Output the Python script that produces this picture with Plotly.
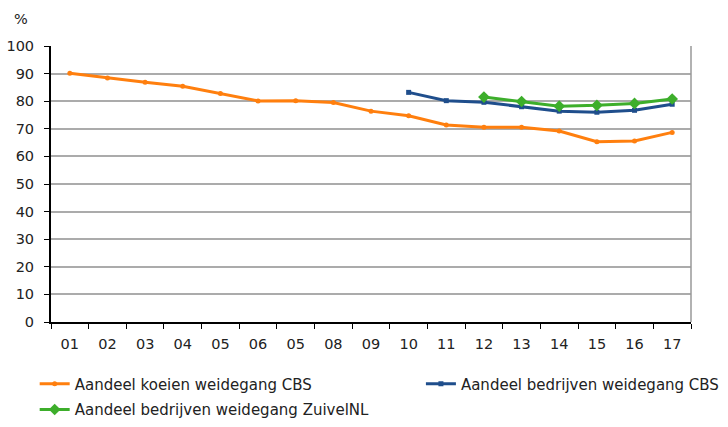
import plotly.graph_objects as go

# Jaren (labels zoals in de bron, incl. de "05" op plek 7)
jaren_labels = ["01", "02", "03", "04", "05", "06", "05", "08", "09",
                "10", "11", "12", "13", "14", "15", "16", "17"]
x_pos = list(range(1, 18))

koeien_cbs = [90.1, 88.4, 86.9, 85.4, 82.8, 80.1, 80.2, 79.5, 76.4,
              74.7, 71.4, 70.6, 70.6, 69.2, 65.3, 65.6, 68.7]

bedrijven_cbs = [None] * 9 + [83.2, 80.2, 79.6, 78.0, 76.4, 76.0, 76.7, 78.9]

bedrijven_zuivelnl = [None] * 11 + [81.5, 79.9, 78.2, 78.5, 79.2, 80.8]

font_naam = "DejaVu Sans"
legend_font = dict(family=font_naam, size=15, color="#222222")

fig = go.Figure()

fig.add_trace(go.Scatter(
    x=x_pos, y=koeien_cbs, name="Aandeel koeien weidegang CBS",
    mode="lines+markers", legend="legend",
    line=dict(color="#FF7F0E", width=3),
    marker=dict(symbol="circle", size=5, color="#FF7F0E"),
))
fig.add_trace(go.Scatter(
    x=x_pos, y=bedrijven_cbs, name="Aandeel bedrijven weidegang CBS",
    mode="lines+markers", legend="legend2",
    line=dict(color="#1F4E8C", width=3),
    marker=dict(symbol="square", size=5, color="#1F4E8C"),
))
fig.add_trace(go.Scatter(
    x=x_pos, y=bedrijven_zuivelnl, name="Aandeel bedrijven weidegang ZuivelNL",
    mode="lines+markers", legend="legend3",
    line=dict(color="#3DAE2B", width=3),
    marker=dict(symbol="diamond", size=9, color="#3DAE2B"),
))

fig.update_layout(
    width=728, height=427,
    margin=dict(l=51, r=37, t=46, b=105, autoexpand=False),
    paper_bgcolor="white", plot_bgcolor="white",
    font=dict(family=font_naam, size=14.5, color="#222222"),
    showlegend=True,
    legend=dict(x=-0.0255, y=-0.225, xanchor="left", yanchor="middle",
                font=legend_font, itemwidth=30, bgcolor="rgba(0,0,0,0)"),
    legend2=dict(x=0.578, y=-0.225, xanchor="left", yanchor="middle",
                 font=legend_font, itemwidth=30, bgcolor="rgba(0,0,0,0)"),
    legend3=dict(x=-0.0255, y=-0.318, xanchor="left", yanchor="middle",
                 font=legend_font, itemwidth=30, bgcolor="rgba(0,0,0,0)"),
    annotations=[dict(
        text="%", x=-0.047, y=1.098, xref="paper", yref="paper",
        xanchor="center", yanchor="middle", showarrow=False,
        font=dict(size=14.5),
    )],
)

fig.update_xaxes(
    range=[0.5, 17.5], tickvals=x_pos, ticktext=jaren_labels,
    ticks="", showgrid=False, zeroline=False, automargin=False,
    showline=True, linecolor="black", linewidth=2,
    ticklabelstandoff=8,
    minor=dict(tick0=0.5, dtick=1, ticks="outside", ticklen=5,
               tickcolor="black", showgrid=False),
)
fig.update_yaxes(
    range=[0, 100], dtick=10, ticks="outside", ticklen=5, tickcolor="black",
    showgrid=True, gridcolor="#ABABAB", gridwidth=1.5, automargin=False,
    zeroline=False, showline=True, linecolor="black", linewidth=2,
    ticklabelstandoff=7,
)

# rechter kader van het plotgebied
fig.add_shape(type="line", xref="paper", yref="paper", x0=1, x1=1, y0=0, y1=1,
              line=dict(color="#999999", width=1.5))

# standaard body-marge van de pagina weghalen, zonder modebar
fig.write_html("out.html", config={"displayModeBar": False},
               post_script="document.body.style.margin='0';")
